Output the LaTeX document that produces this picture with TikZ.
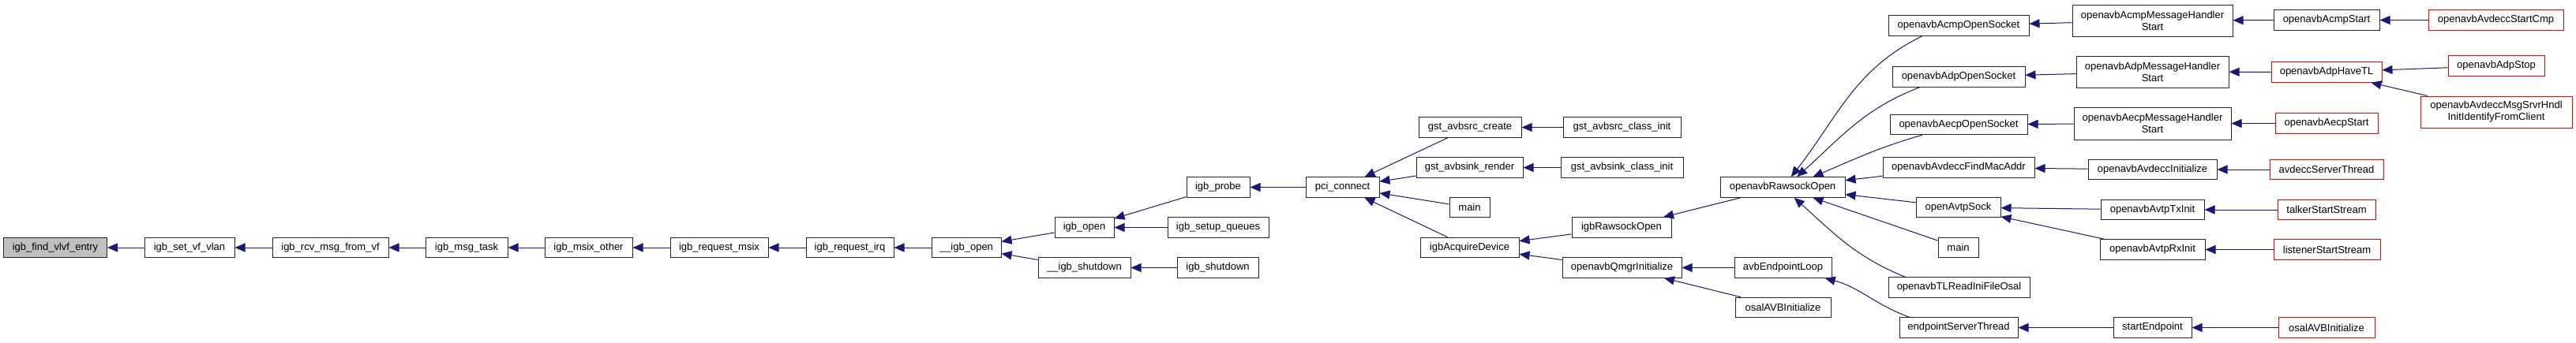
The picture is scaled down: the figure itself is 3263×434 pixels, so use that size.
\documentclass[tikz,border=0pt]{standalone}
\usepackage{fontspec}
\setmainfont{Liberation Sans}
\usepackage{tikz}
\usetikzlibrary{
    arrows.meta
}
\definecolor{edgeblue}{RGB}{25,25,112}
\tikzstyle{func} = [
    rectangle,
    draw=black!85,
    fill=white,
    line width=1pt,
    minimum height=25.5pt,
    inner sep=0pt,
    align=center,
    font=\fontsize{13pt}{15pt}\selectfont
]
\tikzstyle{root} = [
    func,
    fill=gray!50
]
\tikzstyle{cut} = [
    func,
    draw=red
]
\tikzstyle{call} = [
    ->,
    >={Triangle[length=13pt,width=11pt]},
    line width=1pt,
    draw=edgeblue
]

\begin{document}
\begin{tikzpicture}[x=1pt, y=1pt]
        \useasboundingbox (0,0) rectangle (3263,-434);

        % Call graph
        \node[root, minimum width=131pt] (findvlvf) at (70,-314) {igb\_find\_vlvf\_entry};
        \node[func, minimum width=114pt] (setvlan) at (240,-314) {igb\_set\_vf\_vlan};
        \node[func, minimum width=147pt] (rcvmsg) at (418.5,-314) {igb\_rcv\_msg\_from\_vf};
        \node[func, minimum width=104pt] (msgtask) at (591,-314) {igb\_msg\_task};
        \node[func, minimum width=111pt] (msixother) at (745.5,-314) {igb\_msix\_other};
        \node[func, minimum width=124pt] (reqmsix) at (911,-314) {igb\_request\_msix};
        \node[func, minimum width=111pt] (reqirq) at (1076.5,-314) {igb\_request\_irq};
        \node[func, minimum width=88pt] (igbopenx) at (1224,-314) {\_\_igb\_open};
        \node[func, minimum width=75pt] (igbopen) at (1373.5,-288.5) {igb\_open};
        \node[func, minimum width=117pt] (shutdownx) at (1373.5,-339.5) {\_\_igb\_shutdown};
        \node[func, minimum width=80pt] (probe) at (1543,-237.5) {igb\_probe};
        \node[func, minimum width=128pt] (setupq) at (1543,-288.5) {igb\_setup\_queues};
        \node[func, minimum width=103pt] (shutdown) at (1542.5,-339.5) {igb\_shutdown};
        \node[func, minimum width=93pt] (pciconn) at (1700.5,-237.5) {pci\_connect};
        \node[func, minimum width=130pt] (srccreate) at (1862,-161.5) {gst\_avbsrc\_create};
        \node[func, minimum width=135pt] (sinkrender) at (1861.5,-212.5) {gst\_avbsink\_render};
        \node[func, minimum width=51pt] (mainpci) at (1861.5,-263) {main};
        \node[func, minimum width=125pt] (acquire) at (1861.5,-314) {igbAcquireDevice};
        \node[func, minimum width=149pt] (srcinit) at (2054.5,-161.5) {gst\_avbsrc\_class\_init};
        \node[func, minimum width=155pt] (sinkinit) at (2054.5,-212.5) {gst\_avbsink\_class\_init};
        \node[func, minimum width=126pt] (igbraw) at (2054,-288.5) {igbRawsockOpen};
        \node[func, minimum width=151pt] (qmgrinit) at (2054.5,-339.5) {openavbQmgrInitialize};
        \node[func, minimum width=158pt] (rawsock) at (2258,-237.5) {openavbRawsockOpen};
        \node[func, minimum width=123pt] (eploop) at (2258.5,-339.5) {avbEndpointLoop};
        \node[func, minimum width=121pt] (osalinit) at (2258.5,-390) {osalAVBInitialize};
        \node[func, minimum width=178pt] (acmpsock) at (2481,-32.5) {openavbAcmpOpenSocket};
        \node[func, minimum width=168pt] (adpsock) at (2481,-97.5) {openavbAdpOpenSocket};
        \node[func, minimum width=174pt] (aecpsock) at (2481,-158) {openavbAecpOpenSocket};
        \node[func, minimum width=192pt] (findmac) at (2481,-212.5) {openavbAvdeccFindMacAddr};
        \node[func, minimum width=107pt] (avtpsock) at (2480.5,-263) {openAvtpSock};
        \node[func, minimum width=51pt] (mainraw) at (2480.5,-314) {main};
        \node[func, minimum width=179pt] (tlread) at (2481.5,-364.5) {openavbTLReadIniFileOsal};
        \node[func, minimum width=150pt] (epthread) at (2481,-415.5) {endpointServerThread};
        \node[func, minimum width=203pt, minimum height=40pt] (acmphdl) at (2726.5,-26) {openavbAcmpMessageHandler\\Start};
        \node[func, minimum width=193pt, minimum height=40pt] (adphdl) at (2726.5,-91) {openavbAdpMessageHandler\\Start};
        \node[func, minimum width=199pt, minimum height=41pt] (aecphdl) at (2726.5,-156.5) {openavbAecpMessageHandler\\Start};
        \node[func, minimum width=163pt] (avdeccinit) at (2726.5,-215) {openavbAvdeccInitialize};
        \node[func, minimum width=131pt] (avtptx) at (2726.5,-266) {openavbAvtpTxInit};
        \node[func, minimum width=133pt] (avtprx) at (2726.5,-316.5) {openavbAvtpRxInit};
        \node[func, minimum width=99pt] (startep) at (2726.5,-415.5) {startEndpoint};
        \node[func, minimum width=134pt] (acmpstart) at (2947,-25.5) {openavbAcmpStart};
        \node[cut, minimum width=140pt] (havetl) at (2947,-91.5) {openavbAdpHaveTL};
        \node[cut, minimum width=130pt] (aecpstart) at (2947,-156.5) {openavbAecpStart};
        \node[cut, minimum width=144pt] (avdeccthr) at (2947,-215) {avdeccServerThread};
        \node[cut, minimum width=124pt] (talker) at (2947,-266) {talkerStartStream};
        \node[cut, minimum width=135pt] (listener) at (2947.5,-316.5) {listenerStartStream};
        \node[cut, minimum width=122pt] (osalred) at (2947,-415.5) {osalAVBInitialize};
        \node[cut, minimum width=171pt] (startcmp) at (3161.5,-25.5) {openavbAvdeccStartCmp};
        \node[cut, minimum width=122pt] (adpstop) at (3162,-83.5) {openavbAdpStop};
        \node[cut, minimum width=192pt, minimum height=40pt] (msgsrvr) at (3162,-142) {openavbAvdeccMsgSrvrHndl\\InitIdentifyFromClient};

        % Calls
        \draw[call] (setvlan) -- (findvlvf);
        \draw[call] (rcvmsg) -- (setvlan);
        \draw[call] (msgtask) -- (rcvmsg);
        \draw[call] (msixother) -- (msgtask);
        \draw[call] (reqmsix) -- (msixother);
        \draw[call] (reqirq) -- (reqmsix);
        \draw[call] (igbopenx) -- (reqirq);
        \draw[call] (igbopen) -- (igbopenx);
        \draw[call] (shutdownx) -- (igbopenx);
        \draw[call] (probe) -- (igbopen);
        \draw[call] (setupq) -- (igbopen);
        \draw[call] (shutdown) -- (shutdownx);
        \draw[call] (pciconn) -- (probe);
        \draw[call] (srccreate) -- (pciconn);
        \draw[call] (sinkrender) -- (pciconn);
        \draw[call] (mainpci) -- (pciconn);
        \draw[call] (acquire) -- (pciconn);
        \draw[call] (srcinit) -- (srccreate);
        \draw[call] (sinkinit) -- (sinkrender);
        \draw[call] (igbraw) -- (acquire);
        \draw[call] (qmgrinit) -- (acquire);
        \draw[call] (rawsock) -- (igbraw);
        \draw[call] (eploop) -- (qmgrinit);
        \draw[call] (osalinit) -- (qmgrinit);
        \draw[call] (acmpsock.196) to[out=206, in=52] (rawsock.51);
        \draw[call] (adpsock.195) to[out=201, in=42] (rawsock.36);
        \draw[call] (aecpsock.196) to[out=196, in=23] (rawsock.19);
        \draw[call] (findmac) -- (rawsock);
        \draw[call] (avtpsock) -- (rawsock);
        \draw[call] (mainraw) -- (rawsock);
        \draw[call] (tlread.169) to[out=158, in=318] (rawsock.-42);
        \draw[call] (epthread.168) to[out=160, in=345] (eploop.-14);
        \draw[call] (acmphdl) -- (acmpsock);
        \draw[call] (adphdl) -- (adpsock);
        \draw[call] (aecphdl) -- (aecpsock);
        \draw[call] (avdeccinit) -- (findmac);
        \draw[call] (avtptx) -- (avtpsock);
        \draw[call] (avtprx) -- (avtpsock);
        \draw[call] (startep) -- (epthread);
        \draw[call] (acmpstart) -- (acmphdl);
        \draw[call] (havetl) -- (adphdl);
        \draw[call] (aecpstart) -- (aecphdl);
        \draw[call] (avdeccthr) -- (avdeccinit);
        \draw[call] (talker) -- (avtptx);
        \draw[call] (listener) -- (avtprx);
        \draw[call] (osalred) -- (startep);
        \draw[call] (startcmp) -- (acmpstart);
        \draw[call] (adpstop) -- (havetl);
        \draw[call] (msgsrvr) -- (havetl);
    \end{tikzpicture}
\end{document}
